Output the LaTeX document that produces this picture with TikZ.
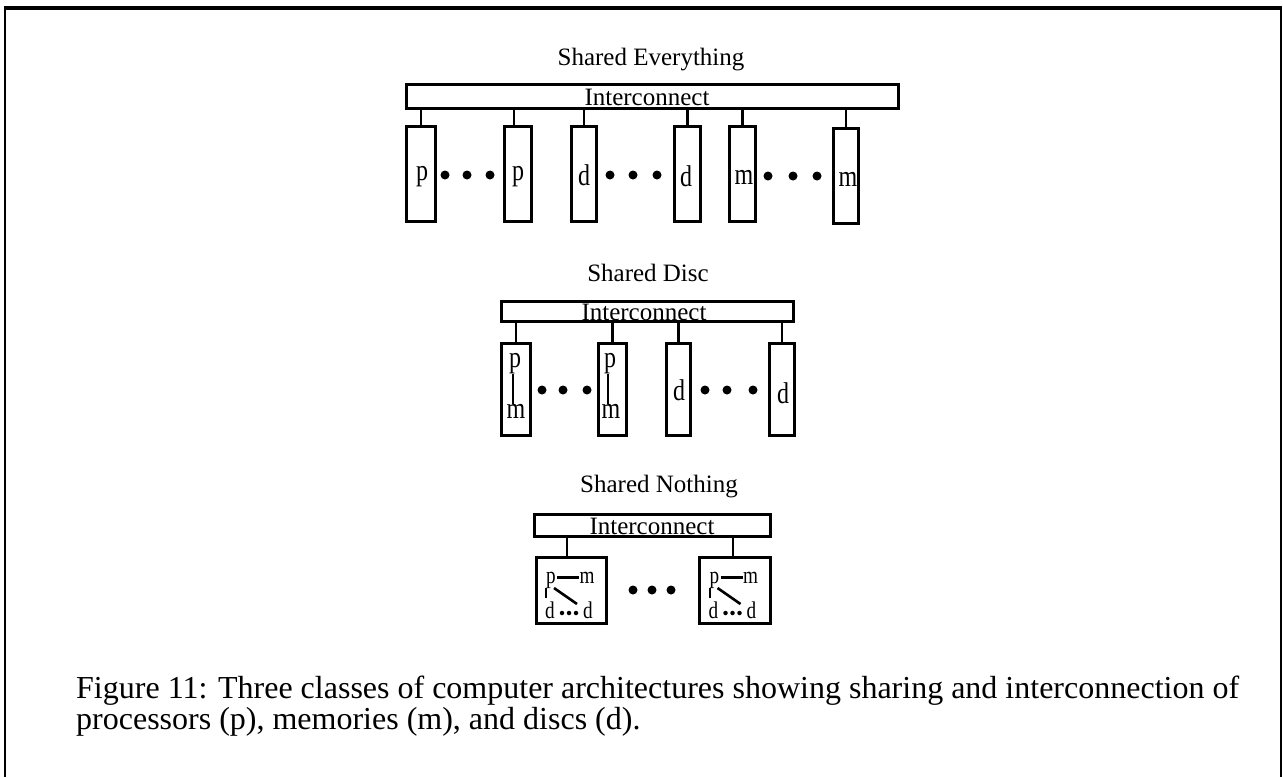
\documentclass[tikz,border=0pt]{standalone}
\usepackage{fontspec}
\setmainfont{Liberation Serif}
\newfontfamily\condfont[FakeStretch=0.8]{Liberation Serif}
\begin{document}
\begin{tikzpicture}[x=1pt,y=-1pt]
\tikzset{
 txt/.style={font=\fontsize{25}{25}\selectfont, inner sep=0pt},
 boxtxt/.style={font=\condfont\fontsize{30}{30}\selectfont, inner sep=0pt},
 smtxt/.style={font=\condfont\fontsize{24}{24}\selectfont, inner sep=0pt, anchor=base},
 captxt/.style={font=\fontsize{32}{32}\selectfont, inner sep=0pt, anchor=base west},
 bar/.style={draw, line width=2.6pt, inner sep=0pt},
 unit/.style={draw, line width=2.6pt, inner sep=0pt},
 bigdot/.style={circle, fill, inner sep=0pt, minimum size=9pt},
 smalldot/.style={circle, fill, inner sep=0pt, minimum size=4.5pt},
 wire/.style={line width=2.4pt},
 thinwire/.style={line width=2pt}
}
\useasboundingbox (0,0) rectangle (1283,777);
% frame
\draw[line width=3.5pt] (4,8) -- (1282,8);
\draw[line width=2pt] (5,8) -- (5,777);
\draw[line width=1.5pt] (1281,8) -- (1281,777);

% ---------- Shared Everything ----------
\node[txt] (t1) at (651,60) {Shared Everything};
\node[bar, minimum width=492.4pt, minimum height=24.4pt] (se) at (652.5,96.5) {};
\node[txt] (set) at (647,97) {Interconnect};
\node[unit, minimum width=29.4pt, minimum height=95.4pt] (sep1) at (421,174) {};
\node[unit, minimum width=27.4pt, minimum height=95.4pt] (sep2) at (518,174) {};
\node[unit, minimum width=25.4pt, minimum height=95.4pt] (sed1) at (584,174) {};
\node[unit, minimum width=26.4pt, minimum height=95.4pt] (sed2) at (687.5,174) {};
\node[unit, minimum width=26.4pt, minimum height=95.4pt] (sem1) at (742.5,174) {};
\node[unit, minimum width=25.4pt, minimum height=95.4pt] (sem2) at (846,176) {};
\node[boxtxt] (lp1) at (422,177) {p};
\node[boxtxt] (lp2) at (518,177) {p};
\node[boxtxt] (ld1) at (584,175) {d};
\node[boxtxt] (ld2) at (686,176) {d};
\node[boxtxt] (lm1) at (744,177) {m};
\node[boxtxt] (lm2) at (848,179) {m};
\foreach \b in {sep1,sed1,sed2,sem1,sem2}
  \draw[wire] (\b.north) -- (\b.north |- se.south);
\draw[wire] ([xshift=-4pt]sep2.north) -- ([xshift=-4pt]sep2.north |- se.south);
\node[bigdot] (sa1) at (445,175) {};
\node[bigdot] (sa2) at (467,175) {};
\node[bigdot] (sa3) at (490,175) {};
\node[bigdot] (sb1) at (610,175) {};
\node[bigdot] (sb2) at (633,175) {};
\node[bigdot] (sb3) at (657,175) {};
\node[bigdot] (sc1) at (768,176) {};
\node[bigdot] (sc2) at (793,176) {};
\node[bigdot] (sc3) at (817,176) {};

% ---------- Shared Disc ----------
\node[txt] (t2) at (648,273) {Shared Disc};
\node[bar, minimum width=292.4pt, minimum height=20.4pt] (sd) at (647.5,311.5) {};
\node[txt] (sdt) at (644,312) {Interconnect};
\node[unit, minimum width=29.4pt, minimum height=92.4pt] (sdb1) at (516,389.5) {};
\node[unit, minimum width=28.4pt, minimum height=92.4pt] (sdb2) at (612.5,389.5) {};
\node[unit, minimum width=24.4pt, minimum height=92.4pt] (sdb3) at (678.5,389.5) {};
\node[unit, minimum width=25.4pt, minimum height=92.4pt] (sdb4) at (782,389.5) {};
\foreach \b in {sdb1,sdb2,sdb3,sdb4}
  \draw[wire] (\b.north) -- (\b.north |- sd.south);
\node[boxtxt] (dp1) at (515,364) {p};
\node[boxtxt] (dm1) at (516,411) {m};
\draw[thinwire] ([xshift=-2pt]dp1.south) -- ([xshift=-2pt]dp1.south |- dm1.north);
\node[boxtxt] (dp2) at (610,364) {p};
\node[boxtxt] (dm2) at (611,411) {m};
\draw[thinwire] ([xshift=-2pt]dp2.south) -- ([xshift=-2pt]dp2.south |- dm2.north);
\node[boxtxt] (dd1) at (679,390) {d};
\node[boxtxt] (dd2) at (783,393) {d};
\node[bigdot] (da1) at (542,390) {};
\node[bigdot] (da2) at (563,390) {};
\node[bigdot] (da3) at (587,390) {};
\node[bigdot] (db1) at (705,390) {};
\node[bigdot] (db2) at (727,390) {};
\node[bigdot] (db3) at (753,390) {};

% ---------- Shared Nothing ----------
\node[txt] (t3) at (659,487) {Shared Nothing};
\node[bar, minimum width=236.4pt, minimum height=22.4pt] (sn) at (652.5,525.5) {};
\node[txt] (snt) at (652,526) {Interconnect};
\node[unit, minimum width=70.4pt, minimum height=66.4pt] (snb1) at (571.5,590.5) {};
\node[unit, minimum width=71.4pt, minimum height=66.4pt] (snb2) at (735,590.5) {};
\draw[wire] (567,538) -- (567,557);
\draw[wire] (733,538) -- (733,557);
\foreach \dx/\n in {0/a,163.5/b}{
  \node[smtxt] (\n p) at (551+\dx,583) {p};
  \node[smtxt] (\n m) at (587+\dx,583) {m};
  \node[smtxt] (\n d1) at (550+\dx,618) {d};
  \node[smtxt] (\n d2) at (588+\dx,618) {d};
  \draw[line width=3pt] (557+\dx,577) -- (\n m.west |- 0,577);
  \draw[thinwire] (546+\dx,588) -- (546+\dx,598);
  \draw[line width=2.6pt] (554+\dx,588) -- (577+\dx,604);
  \node[smalldot] (\n x1) at (562+\dx,613) {};
  \node[smalldot] (\n x2) at (569+\dx,613) {};
  \node[smalldot] (\n x3) at (576+\dx,613) {};
}
\node[bigdot] (na1) at (633,590) {};
\node[bigdot] (na2) at (652,590) {};
\node[bigdot] (na3) at (671,590) {};

% ---------- caption ----------
\node[captxt] (cap1) at (76,698) {Figure 11: Three classes of computer architectures showing sharing and interconnection of};
\node[captxt] (cap2) at (76,729) {processors (p), memories (m), and discs (d).};
\end{tikzpicture}
\end{document}
